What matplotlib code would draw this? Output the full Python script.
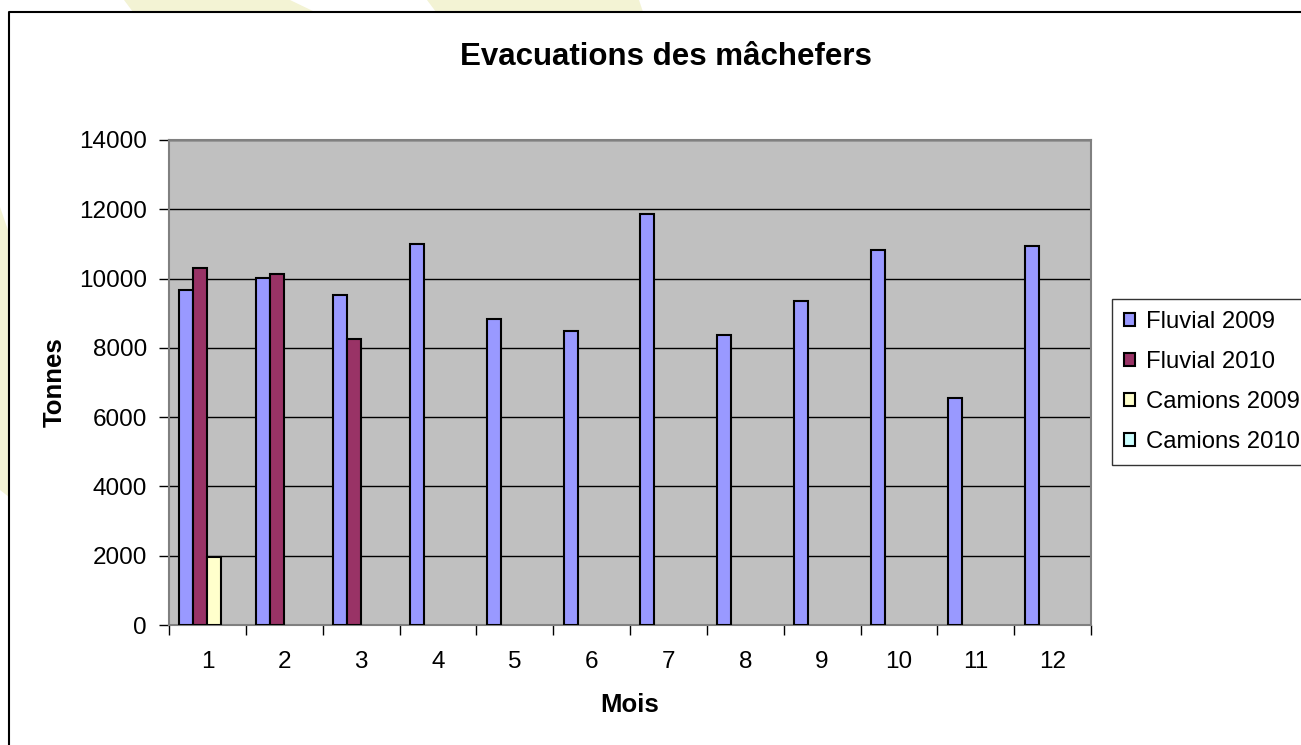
import numpy as np
import matplotlib
matplotlib.use('Agg')
import matplotlib.pyplot as plt
from matplotlib.patches import Patch, Polygon

plt.rcParams['font.family'] = ['Liberation Sans', 'DejaVu Sans']

# data
mois = [1, 2, 3, 4, 5, 6, 7, 8, 9, 10, 11, 12]
fluvial_2009 = [9680, 10020, 9520, 10990, 8830, 8490, 11850, 8370, 9350, 10820, 6550, 10930]
fluvial_2010 = [10300, 10130, 8250, np.nan, np.nan, np.nan, np.nan, np.nan, np.nan, np.nan, np.nan, np.nan]
camions_2009 = [1960, np.nan, np.nan, np.nan, np.nan, np.nan, np.nan, np.nan, np.nan, np.nan, np.nan, np.nan]
camions_2010 = [np.nan] * 12
series_names = ['Fluvial 2009', 'Fluvial 2010', 'Camions 2009', 'Camions 2010']
series_colors = ['#9999FF', '#993366', '#FFFFCC', '#CCFFFF']
yticks = [0, 2000, 4000, 6000, 8000, 10000, 12000, 14000]

W, H = 1301, 745
fig = plt.figure(figsize=(W / 100, H / 100), dpi=100)
fig.patch.set_facecolor('white')

# background: yellow shapes + chart border (pixel coords)
bg = fig.add_axes([0, 0, 1, 1], zorder=-5)
bg.set_xlim(0, W)
bg.set_ylim(H, 0)
bg.axis('off')
yel = '#f3f3d4'
bg.add_patch(Polygon([(124, 0), (290, 0), (315, 12), (133, 12)], closed=True, fc=yel, ec='none'))
bg.add_patch(Polygon([(427, 0), (639, 0), (643, 12), (436, 12)], closed=True, fc=yel, ec='none'))
bg.add_patch(Polygon([(0, 207), (9, 233), (9, 497), (0, 490)], closed=True, fc=yel, ec='none'))
bg.plot([9, 9, W + 5], [H + 5, 12, 12], color='black', lw=1.5, solid_capstyle='butt')

ax = fig.add_axes([169 / W, 1 - 625 / H, (1091 - 169) / W, (625 - 140) / H])
ax.set_facecolor('#c0c0c0')

x = np.array(mois)
w = 1 / 5.5
data = [fluvial_2009, fluvial_2010, camions_2009, camions_2010]
for i, vals in enumerate(data):
    ax.bar(x + (i - 1.5) * w, vals, width=w, color=series_colors[i],
           edgecolor='black', linewidth=1.5, zorder=3)

ax.set_xlim(0.5, 12.5)
ax.set_ylim(0, 14000)
ax.set_yticks(yticks)
ax.set_yticklabels([str(v) for v in yticks], fontsize=17.5)
ax.yaxis.grid(True, color='black', linewidth=1, zorder=1)
ax.set_axisbelow(True)

ax.set_xticks(np.arange(0.5, 13, 1))
ax.set_xticklabels([])
ax.set_xticks(x, minor=True)
ax.set_xticklabels([str(m) for m in mois], minor=True, fontsize=17.5)
ax.tick_params(axis='x', which='major', length=7, width=1, color='black', direction='out')
ax.tick_params(axis='x', which='minor', length=0, pad=19)
ax.tick_params(axis='y', length=7, width=1, color='black', direction='out', pad=9)

for s in ax.spines.values():
    s.set_color('#808080')
    s.set_linewidth(1.5)

ax.set_xlabel('Mois', fontsize=18.5, fontweight='bold', labelpad=14)
ax.set_ylabel('Tonnes', fontsize=18.5, fontweight='bold', labelpad=9)
fig.text(666 / W, 1 - 57 / H, 'Evacuations des mâchefers', fontsize=22.5,
         fontweight='bold', ha='center', va='center')

handles = [Patch(facecolor=c, edgecolor='black', linewidth=1.5) for c in series_colors]
leg = fig.legend(handles, series_names, loc='upper left',
                 bbox_to_anchor=(1112 / W, 1 - 299 / H), fontsize=17.2,
                 frameon=True, fancybox=False, edgecolor='black',
                 handlelength=0.48, handleheight=0.48, handletextpad=0.45,
                 labelspacing=0.75, borderpad=0.5, borderaxespad=0)
leg.get_frame().set_linewidth(1)

fig.savefig('out.png', dpi=100)
